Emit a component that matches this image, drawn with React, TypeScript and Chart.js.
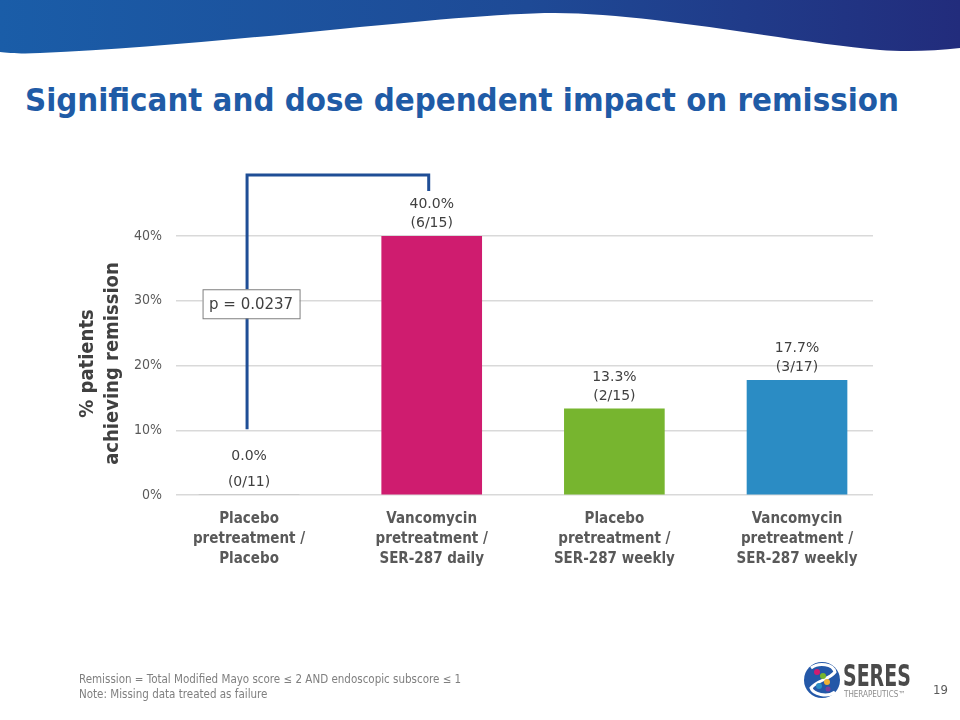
import React, { useEffect, useRef } from "react";
import { Chart, registerables } from "chart.js";

Chart.register(...registerables);

const categories: string[][] = [
  ["Placebo", "pretreatment /", "Placebo"],
  ["Vancomycin", "pretreatment /", "SER-287 daily"],
  ["Placebo", "pretreatment /", "SER-287 weekly"],
  ["Vancomycin", "pretreatment /", "SER-287 weekly"],
];
const remissionPct: number[] = [0.0, 40.0, 13.3, 17.7];
const fractions: string[] = ["(0/11)", "(6/15)", "(2/15)", "(3/17)"];
const barColors: string[] = ["#A6A6A6", "#CF1C6F", "#77B52F", "#2B8CC4"];
const yTicks: number[] = [0, 10, 20, 30, 40];
const pValueText = "p = 0.0237";
const yTitle: string[] = ["% patients", "achieving remission"];

const COND = "'DejaVu Sans Condensed', 'DejaVu Sans', sans-serif";
const REG = "'DejaVu Sans', sans-serif";

const overlayPlugin = {
  id: "overlay",
  afterDatasetsDraw(chart: any) {
    const ctx = chart.ctx as CanvasRenderingContext2D;
    const xs = chart.scales.x;
    const ys = chart.scales.y;
    const area = chart.chartArea;
    ctx.save();
    // data labels
    ctx.fillStyle = "#404040";
    ctx.textAlign = "center";
    ctx.textBaseline = "middle";
    remissionPct.forEach((v, i) => {
      const x = xs.getPixelForValue(i);
      const yTop = ys.getPixelForValue(v);
      const zero = v === 0;
      ctx.font = `14px ${REG}`;
      ctx.fillText(v.toFixed(1) + "%", x, yTop - (zero ? 39 : 32));
      ctx.fillText(fractions[i], x, yTop - 13);
    });
    // y title
    ctx.save();
    ctx.translate(100, (area.top + area.bottom) / 2 - 2);
    ctx.rotate(-Math.PI / 2);
    ctx.fillStyle = "#404040";
    ctx.font = `bold 20px ${COND}`;
    ctx.fillText(yTitle[0], 0, -12);
    ctx.fillText(yTitle[1], 0, 13);
    ctx.restore();
    // bracket
    const bx1 = xs.getPixelForValue(0) - 2;
    const bx2 = xs.getPixelForValue(1) - 3;
    const bBottom = ys.getPixelForValue(10) - 1;
    const bTop = area.top - 61;
    ctx.strokeStyle = "#1F4E96";
    ctx.lineWidth = 3;
    ctx.beginPath();
    ctx.moveTo(bx1, bBottom);
    ctx.lineTo(bx1, bTop);
    ctx.lineTo(bx2, bTop);
    ctx.lineTo(bx2, bTop + 16);
    ctx.stroke();
    // p-value box
    const cy = ys.getPixelForValue(30) + 3;
    const bw = 97;
    const bh = 29;
    const cx = bx1 + 4;
    ctx.fillStyle = "#FFFFFF";
    ctx.fillRect(cx - bw / 2, cy - bh / 2, bw, bh);
    ctx.strokeStyle = "#7F7F7F";
    ctx.lineWidth = 1;
    ctx.strokeRect(cx - bw / 2 + 0.5, cy - bh / 2 + 0.5, bw, bh);
    ctx.fillStyle = "#404040";
    ctx.font = `15px ${REG}`;
    ctx.fillText(pValueText, cx, cy + 1);
    ctx.restore();
  },
};

function ChartView() {
  const ref = useRef<HTMLCanvasElement | null>(null);
  useEffect(() => {
    if (!ref.current) return;
    const chart = new Chart(ref.current, {
      type: "bar",
      data: {
        datasets: [
          {
            data: remissionPct.map((v, i) => ({ x: i, y: v })),
            backgroundColor: barColors,
            barThickness: 100,
            borderWidth: 0,
          },
        ],
      },
      options: {
        animation: false,
        responsive: false,
        maintainAspectRatio: false,
        layout: { padding: { top: 236, right: 87, left: 0, bottom: 0 } },
        plugins: { legend: { display: false }, tooltip: { enabled: false } },
        scales: {
          x: {
            type: "linear",
            offset: false,
            min: -0.4,
            max: 3.416,
            grid: { display: false },
            border: { display: false },
            afterFit: (s: any) => {
              s.height = 225;
            },
            afterBuildTicks: (s: any) => {
              s.ticks = categories.map((_, i) => ({ value: i }));
            },
            ticks: {
              padding: 6,
              autoSkip: false,
              maxRotation: 0,
              color: "#595959",
              font: { family: COND, size: 15, weight: "bold", lineHeight: 1.33 },
              callback: (v: any) => categories[Math.round(Number(v))] ?? "",
            },
          },
          y: {
            min: 0,
            max: 40,
            afterFit: (s: any) => {
              s.width = 176;
            },
            afterBuildTicks: (s: any) => {
              s.ticks = yTicks.map((v) => ({ value: v }));
            },
            grid: { color: "#D9D9D9", lineWidth: 1.5, drawTicks: false },
            border: { display: false },
            ticks: {
              padding: 14,
              color: "#595959",
              font: { family: COND, size: 14 },
              callback: (v: any) => v + "%",
            },
          },
        },
      },
      plugins: [overlayPlugin],
    });
    return () => chart.destroy();
  }, []);
  return <canvas ref={ref} width={960} height={720} style={{ position: "absolute", left: 0, top: 0 }} />;
}

function Banner() {
  return (
    <svg width={960} height={60} style={{ position: "absolute", left: 0, top: 0 }}>
      <defs>
        <linearGradient id="bg" x1="0" y1="0" x2="1" y2="0">
          <stop offset="0" stopColor="#1A5DA8" />
          <stop offset="0.55" stopColor="#1E4A96" />
          <stop offset="1" stopColor="#222C7C" />
        </linearGradient>
      </defs>
      <path
        d="M0,0 H960 V48 C935,51 905,52 880,50 C790,42 650,13 555,13 C450,13 220,46 40,53 C22,54 8,53 0,52 Z"
        fill="url(#bg)"
      />
    </svg>
  );
}

function Logo() {
  return (
    <div style={{ position: "absolute", left: 803, top: 658 }}>
      <svg width={38} height={44} style={{ position: "absolute", left: 0, top: 0 }}>
        <circle cx={19} cy={22} r={18} fill="#2458A8" />
        <path d="M8,10 C16,4 30,6 32,14 C26,22 14,22 8,30 C10,36 24,40 32,34" stroke="#FFFFFF" strokeWidth={3} fill="none" />
        <circle cx={14} cy={14} r={3} fill="#D01C6F" />
        <circle cx={20} cy={18} r={3} fill="#77B52F" />
        <circle cx={24} cy={24} r={3} fill="#F2B233" />
        <circle cx={16} cy={28} r={3} fill="#2B8CC4" />
        <circle cx={25} cy={31} r={2.5} fill="#7A3E9D" />
      </svg>
      <div
        style={{
          position: "absolute",
          left: 40,
          top: -1,
          font: `bold 31px ${COND}`,
          color: "#4A4A4A",
          whiteSpace: "nowrap",
          transform: "scaleX(0.68)",
          transformOrigin: "left top",
        }}
      >
        SERES
      </div>
      <div
        style={{
          position: "absolute",
          left: 41,
          top: 32,
          font: `8px ${COND}`,
          color: "#8C8C8C",
          whiteSpace: "nowrap",
        }}
      >
        THERAPEUTICS™
      </div>
    </div>
  );
}

export default function App() {
  return (
    <div
      style={{
        position: "fixed",
        left: 0,
        top: 0,
        width: 960,
        height: 720,
        background: "#FFFFFF",
        overflow: "hidden",
      }}
    >
      <Banner />
      <div
        style={{
          position: "absolute",
          left: 25,
          top: 81,
          font: `bold 32.7px ${COND}`,
          color: "#1F5BA6",
          whiteSpace: "nowrap",
        }}
      >
        Significant and dose dependent impact on remission
      </div>
      <ChartView />
      <div
        style={{
          position: "absolute",
          left: 79,
          top: 672,
          font: `11.5px ${COND}`,
          lineHeight: "15px",
          color: "#7F7F7F",
          whiteSpace: "nowrap",
        }}
      >
        <div>Remission = Total Modified Mayo score ≤ 2 AND endoscopic subscore ≤ 1</div>
        <div>Note: Missing data treated as failure</div>
      </div>
      <Logo />
      <div
        style={{
          position: "absolute",
          left: 933,
          top: 682,
          font: `13px ${COND}`,
          color: "#595959",
        }}
      >
        19
      </div>
    </div>
  );
}
